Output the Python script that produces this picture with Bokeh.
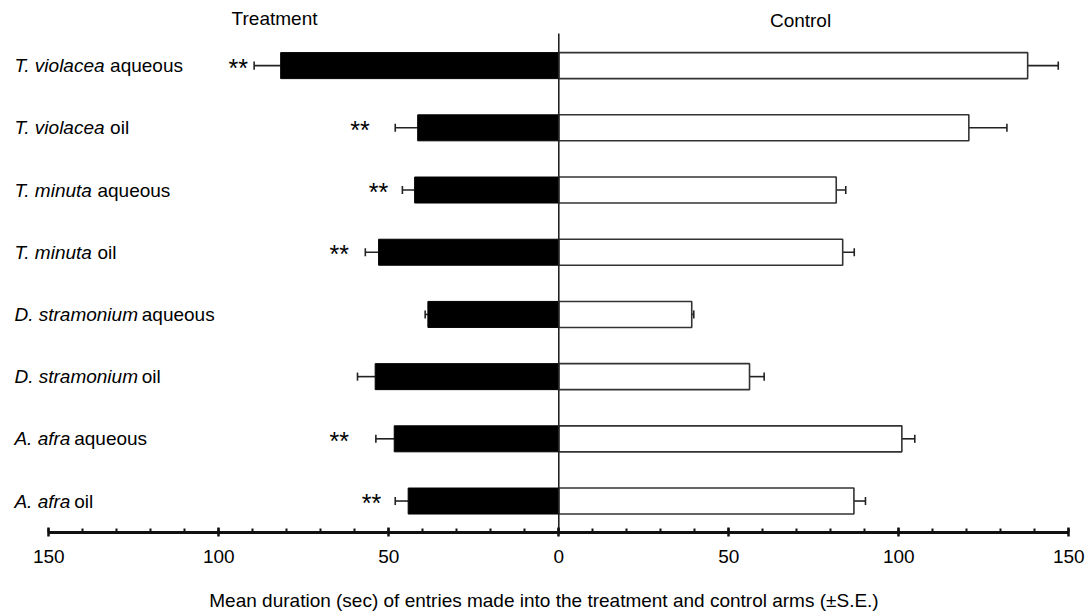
from bokeh.plotting import figure
from bokeh.models import ColumnDataSource, FixedTicker, Range1d
from bokeh.embed import file_html
from bokeh.resources import INLINE
from bokeh.core.properties import value

# ---------------- data (seconds) ----------------
species = ["T. violacea", "T. violacea", "T. minuta", "T. minuta",
           "D. stramonium", "D. stramonium", "A. afra", "A. afra"]
extract = ["aqueous", "oil", "aqueous", "oil", "aqueous", "oil", "aqueous", "oil"]
treatment = [81.8, 41.5, 42.4, 53.0, 38.5, 54.0, 48.4, 44.3]
treatment_se = [7.8, 6.6, 3.6, 3.9, 0.8, 5.2, 5.4, 3.8]
control = [137.9, 120.6, 81.6, 83.5, 39.1, 56.1, 100.9, 86.8]
control_se = [9.0, 11.2, 2.8, 3.4, 0.6, 4.3, 3.8, 3.4]
significant = [True, True, True, True, False, False, True, True]
sig_mark_at = [94.3, 58.5, 53.0, 64.6, 0, 0, 64.6, 55.1]  # where the ** sits (sec, treatment side)
tick_values = [-150, -100, -50, 0, 50, 100, 150]
tick_labels = ["150", "100", "50", "0", "50", "100", "150"]
side_titles = ["Treatment", "Control"]
x_title = "Mean duration (sec) of entries made into the treatment and control arms (\u00b1S.E.)"

FONT = "Liberation Sans"
fs_px = 19.0
FS = "19px"

n = len(species)
rows = [n - 1 - i for i in range(n)]

# Arial / Liberation Sans advance widths (per 1000 em) to place the upright part after the italic one
W = {'T': 611, '.': 278, ' ': 278, 'v': 500, 'i': 222, 'o': 556, 'l': 222, 'a': 556,
     'c': 500, 'e': 556, 'm': 833, 'n': 556, 'u': 556, 't': 278, 'D': 722, 's': 500,
     'r': 333, 'A': 667, 'f': 278}
def text_w(s):
    return sum(W.get(ch, 556) for ch in s) / 1000.0 * fs_px

Y_BOT, Y_TOP = -0.506, 8.047
p = figure(width=1087, height=613,
           x_range=Range1d(-164.2, 155.5), y_range=Range1d(Y_BOT, Y_TOP),
           output_backend="svg", toolbar_location=None, y_axis_location=None,
           min_border_left=0, min_border_right=0, min_border_top=0, min_border_bottom=81)
p.outline_line_color = None
p.xgrid.visible = False
p.ygrid.visible = False
p.background_fill_color = "white"

BAR_H = 0.418
src = ColumnDataSource(dict(
    y=rows,
    t_left=[-v for v in treatment],
    t_err=[-(v + e) for v, e in zip(treatment, treatment_se)],
    c_right=control,
    c_err=[v + e for v, e in zip(control, control_se)],
    zero=[0] * n,
    cap_lo=[r - 0.065 for r in rows],
    cap_hi=[r + 0.065 for r in rows],
))

# error bars
p.segment(x0="t_left", x1="t_err", y0="y", y1="y", source=src, line_color="#222222", line_width=1.6)
p.segment(x0="t_err", x1="t_err", y0="cap_lo", y1="cap_hi", source=src, line_color="#222222", line_width=1.6)
p.segment(x0="c_right", x1="c_err", y0="y", y1="y", source=src, line_color="#222222", line_width=1.6)
p.segment(x0="c_err", x1="c_err", y0="cap_lo", y1="cap_hi", source=src, line_color="#222222", line_width=1.6)

# bars
p.hbar(y="y", left="t_left", right="zero", height=BAR_H, source=src,
       fill_color="black", line_color="black", line_width=1)
p.hbar(y="y", left="zero", right="c_right", height=BAR_H, source=src,
       fill_color="white", line_color="#333333", line_width=1.6)

# zero line
p.segment(x0=[0], x1=[0], y0=[Y_BOT], y1=[7.516], line_color="#222222", line_width=1.6)

# significance marks
sig_src = ColumnDataSource(dict(
    x=[-v for v, s in zip(sig_mark_at, significant) if s],
    y=[r for r, s in zip(rows, significant) if s],
    t=["**" for s in significant if s],
))
p.text(x="x", y="y", text="t", source=sig_src, text_align="center", text_baseline="middle",
       y_offset=2, text_font=value(FONT), text_font_size="25px", text_color="black")

# category labels: italic species + upright extract type
lab_x = -160.1
lab_src = ColumnDataSource(dict(
    x=[lab_x] * n, y=rows, sp=species, ex=extract,
    off=[text_w(s) + 0.2 * fs_px for s in species],
))
p.text(x="x", y="y", text="sp", source=lab_src, text_align="left", text_baseline="middle",
       text_font=value(FONT), text_font_size=FS, text_font_style="italic", text_color="black")
p.text(x="x", y="y", text="ex", source=lab_src, x_offset="off", text_align="left",
       text_baseline="middle", text_font=value(FONT), text_font_size=FS, text_color="black")

# side headers
p.text(x=[-83.6, 71.1], y=[7.757, 7.725], text=side_titles, text_align="center",
       text_baseline="middle", text_font=value(FONT), text_font_size=FS, text_color="black")

# x axis
ax = p.xaxis[0]
ax.ticker = FixedTicker(ticks=tick_values, minor_ticks=list(range(-150, 151, 10)))
ax.major_label_overrides = {v: l for v, l in zip(tick_values, tick_labels)}
ax.bounds = (-150, 150)
ax.axis_line_width = 3
ax.axis_line_color = "#111111"
ax.major_tick_in = 5
ax.major_tick_out = 4
ax.major_tick_line_width = 2.5
ax.major_tick_line_color = "#111111"
ax.minor_tick_in = 4
ax.minor_tick_out = 0
ax.minor_tick_line_width = 2
ax.minor_tick_line_color = "#111111"
ax.major_label_text_font = FONT
ax.major_label_text_font_size = FS
ax.major_label_text_color = "black"
ax.major_label_standoff = 13
ax.axis_label = x_title
ax.axis_label_text_font = FONT
ax.axis_label_text_font_size = FS
ax.axis_label_text_font_style = "normal"
ax.axis_label_text_color = "black"
ax.axis_label_standoff = 24

open("out.html", "w").write(file_html(p, INLINE))
